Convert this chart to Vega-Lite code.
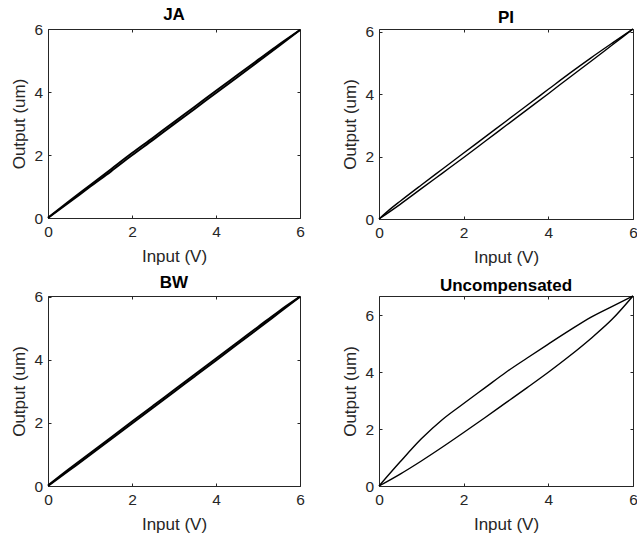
{
  "$schema": "https://vega.github.io/schema/vega-lite/v6.json",
  "background": "white",
  "padding": {"left": 10, "top": 5, "right": 0, "bottom": 0},
  "columns": 2,
  "spacing": {"row": 77, "column": 79},
  "bounds": "flush",
  "config": {
    "font": "Liberation Sans",
    "view": {"stroke": "#262626", "strokeWidth": 1},
    "axis": {
      "grid": false,
      "domain": false,
      "tickColor": "#262626",
      "tickSize": -3,
      "labelColor": "#262626",
      "titleColor": "#262626",
      "labelFont": "Liberation Sans",
      "titleFont": "Liberation Sans",
      "labelFontSize": 15.5,
      "titleFontSize": 17,
      "titleFontWeight": "normal",
      "labelFlush": false,
      "labelOverlap": false
    },
    "axisX": {"labelPadding": 9, "titlePadding": 9},
    "axisY": {"labelPadding": 8.5, "titlePadding": 5},
    "title": {"fontSize": 17, "fontWeight": "bold", "color": "black", "anchor": "middle", "frame": "group", "offset": -2, "font": "Liberation Sans"}
  },
  "concat": [
    {
      "title": "JA",
      "width": 252,
      "height": 189,
      "data": {"values": [
        {"b": "up", "x": 0, "y": 0},
        {"b": "up", "x": 0.5, "y": 0.49},
        {"b": "up", "x": 1, "y": 0.99},
        {"b": "up", "x": 1.5, "y": 1.48},
        {"b": "up", "x": 2, "y": 1.99},
        {"b": "up", "x": 2.5, "y": 2.48},
        {"b": "up", "x": 3, "y": 2.98},
        {"b": "up", "x": 3.5, "y": 3.47},
        {"b": "up", "x": 4, "y": 3.97},
        {"b": "up", "x": 4.5, "y": 4.46},
        {"b": "up", "x": 5, "y": 4.96},
        {"b": "up", "x": 5.5, "y": 5.46},
        {"b": "up", "x": 6, "y": 5.97},
        {"b": "down", "x": 6, "y": 5.97},
        {"b": "down", "x": 5.5, "y": 5.51},
        {"b": "down", "x": 5, "y": 5.02},
        {"b": "down", "x": 4.5, "y": 4.53},
        {"b": "down", "x": 4, "y": 4.04},
        {"b": "down", "x": 3.5, "y": 3.54},
        {"b": "down", "x": 3, "y": 3.05},
        {"b": "down", "x": 2.5, "y": 2.55},
        {"b": "down", "x": 2, "y": 2.06},
        {"b": "down", "x": 1.5, "y": 1.55},
        {"b": "down", "x": 1, "y": 1.04},
        {"b": "down", "x": 0.5, "y": 0.53},
        {"b": "down", "x": 0, "y": 0.01}
      ]},
      "resolve": {"axis": {"x": "independent", "y": "independent"}},
      "layer": [
        {
          "mark": {"type": "line", "color": "black", "strokeWidth": 1.9, "interpolate": "monotone"},
          "encoding": {
            "x": {"field": "x", "type": "quantitative", "scale": {"domain": [0, 6], "nice": false}, "axis": {"orient": "bottom", "title": "Input (V)", "values": [0, 2, 4, 6]}},
            "y": {"field": "y", "type": "quantitative", "scale": {"domain": [0, 6], "nice": false}, "axis": {"orient": "left", "title": "Output (um)", "values": [0, 2, 4, 6]}},
            "detail": {"field": "b"},
            "order": {"field": "x", "type": "quantitative"}
          }
        },
        {
          "mark": {"type": "line", "opacity": 0},
          "encoding": {
            "x": {"field": "x", "type": "quantitative", "axis": {"orient": "top", "labels": false, "title": null, "values": [0, 2, 4, 6]}},
            "y": {"field": "y", "type": "quantitative", "axis": {"orient": "right", "labels": false, "title": null, "values": [0, 2, 4, 6]}},
            "detail": {"field": "b"}
          }
        }
      ]
    },
    {
      "title": "PI",
      "width": 254,
      "height": 190,
      "data": {"values": [
        {"b": "up", "x": 0, "y": 0},
        {"b": "up", "x": 0.5, "y": 0.47},
        {"b": "up", "x": 1, "y": 0.97},
        {"b": "up", "x": 1.5, "y": 1.47},
        {"b": "up", "x": 2, "y": 1.97},
        {"b": "up", "x": 2.5, "y": 2.48},
        {"b": "up", "x": 3, "y": 2.99},
        {"b": "up", "x": 3.5, "y": 3.5},
        {"b": "up", "x": 4, "y": 4.01},
        {"b": "up", "x": 4.5, "y": 4.53},
        {"b": "up", "x": 5, "y": 5.04},
        {"b": "up", "x": 5.5, "y": 5.56},
        {"b": "up", "x": 6, "y": 6.08},
        {"b": "down", "x": 6, "y": 6.08},
        {"b": "down", "x": 5.5, "y": 5.62},
        {"b": "down", "x": 5, "y": 5.15},
        {"b": "down", "x": 4.5, "y": 4.66},
        {"b": "down", "x": 4, "y": 4.15},
        {"b": "down", "x": 3.5, "y": 3.64},
        {"b": "down", "x": 3, "y": 3.13},
        {"b": "down", "x": 2.5, "y": 2.62},
        {"b": "down", "x": 2, "y": 2.11},
        {"b": "down", "x": 1.5, "y": 1.6},
        {"b": "down", "x": 1, "y": 1.09},
        {"b": "down", "x": 0.5, "y": 0.57},
        {"b": "down", "x": 0.25, "y": 0.3},
        {"b": "down", "x": 0, "y": 0}
      ]},
      "resolve": {"axis": {"x": "independent", "y": "independent"}},
      "layer": [
        {
          "mark": {"type": "line", "color": "black", "strokeWidth": 1.4, "interpolate": "monotone"},
          "encoding": {
            "x": {"field": "x", "type": "quantitative", "scale": {"domain": [0, 6], "nice": false}, "axis": {"orient": "bottom", "title": "Input (V)", "values": [0, 2, 4, 6]}},
            "y": {"field": "y", "type": "quantitative", "scale": {"domain": [0, 6.08], "nice": false}, "axis": {"orient": "left", "title": "Output (um)", "values": [0, 2, 4, 6]}},
            "detail": {"field": "b"},
            "order": {"field": "x", "type": "quantitative"}
          }
        },
        {
          "mark": {"type": "line", "opacity": 0},
          "encoding": {
            "x": {"field": "x", "type": "quantitative", "axis": {"orient": "top", "labels": false, "title": null, "values": [0, 2, 4, 6]}},
            "y": {"field": "y", "type": "quantitative", "axis": {"orient": "right", "labels": false, "title": null, "values": [0, 2, 4, 6]}},
            "detail": {"field": "b"}
          }
        }
      ]
    },
    {
      "title": "BW",
      "width": 252,
      "height": 190,
      "data": {"values": [
        {"b": "up", "x": 0, "y": 0},
        {"b": "up", "x": 0.5, "y": 0.49},
        {"b": "up", "x": 1, "y": 0.98},
        {"b": "up", "x": 1.5, "y": 1.48},
        {"b": "up", "x": 2, "y": 1.98},
        {"b": "up", "x": 2.5, "y": 2.48},
        {"b": "up", "x": 3, "y": 2.98},
        {"b": "up", "x": 3.5, "y": 3.48},
        {"b": "up", "x": 4, "y": 3.98},
        {"b": "up", "x": 4.5, "y": 4.48},
        {"b": "up", "x": 5, "y": 4.98},
        {"b": "up", "x": 5.5, "y": 5.49},
        {"b": "up", "x": 6, "y": 6.0},
        {"b": "down", "x": 6, "y": 6.0},
        {"b": "down", "x": 5.5, "y": 5.54},
        {"b": "down", "x": 5, "y": 5.04},
        {"b": "down", "x": 4.5, "y": 4.54},
        {"b": "down", "x": 4, "y": 4.04},
        {"b": "down", "x": 3.5, "y": 3.54},
        {"b": "down", "x": 3, "y": 3.04},
        {"b": "down", "x": 2.5, "y": 2.54},
        {"b": "down", "x": 2, "y": 2.04},
        {"b": "down", "x": 1.5, "y": 1.54},
        {"b": "down", "x": 1, "y": 1.04},
        {"b": "down", "x": 0.5, "y": 0.54},
        {"b": "down", "x": 0, "y": 0.02}
      ]},
      "resolve": {"axis": {"x": "independent", "y": "independent"}},
      "layer": [
        {
          "mark": {"type": "line", "color": "black", "strokeWidth": 1.9, "interpolate": "monotone"},
          "encoding": {
            "x": {"field": "x", "type": "quantitative", "scale": {"domain": [0, 6], "nice": false}, "axis": {"orient": "bottom", "title": "Input (V)", "values": [0, 2, 4, 6]}},
            "y": {"field": "y", "type": "quantitative", "scale": {"domain": [0, 6.02], "nice": false}, "axis": {"orient": "left", "title": "Output (um)", "values": [0, 2, 4, 6]}},
            "detail": {"field": "b"},
            "order": {"field": "x", "type": "quantitative"}
          }
        },
        {
          "mark": {"type": "line", "opacity": 0},
          "encoding": {
            "x": {"field": "x", "type": "quantitative", "axis": {"orient": "top", "labels": false, "title": null, "values": [0, 2, 4, 6]}},
            "y": {"field": "y", "type": "quantitative", "axis": {"orient": "right", "labels": false, "title": null, "values": [0, 2, 4, 6]}},
            "detail": {"field": "b"}
          }
        }
      ]
    },
    {
      "title": "Uncompensated",
      "width": 254,
      "height": 190,
      "data": {"values": [
        {"b": "up", "x": 0, "y": 0},
        {"b": "up", "x": 0.5, "y": 0.42},
        {"b": "up", "x": 1, "y": 0.88},
        {"b": "up", "x": 1.5, "y": 1.37},
        {"b": "up", "x": 2, "y": 1.88},
        {"b": "up", "x": 2.5, "y": 2.4},
        {"b": "up", "x": 3, "y": 2.93},
        {"b": "up", "x": 3.5, "y": 3.46},
        {"b": "up", "x": 4, "y": 4.0},
        {"b": "up", "x": 4.5, "y": 4.57},
        {"b": "up", "x": 5, "y": 5.18},
        {"b": "up", "x": 5.5, "y": 5.85},
        {"b": "up", "x": 6, "y": 6.68},
        {"b": "down", "x": 6, "y": 6.68},
        {"b": "down", "x": 5.5, "y": 6.31},
        {"b": "down", "x": 5, "y": 5.93},
        {"b": "down", "x": 4.5, "y": 5.47},
        {"b": "down", "x": 4, "y": 4.99},
        {"b": "down", "x": 3.5, "y": 4.5},
        {"b": "down", "x": 3, "y": 4.0},
        {"b": "down", "x": 2.5, "y": 3.45},
        {"b": "down", "x": 2, "y": 2.9},
        {"b": "down", "x": 1.5, "y": 2.34},
        {"b": "down", "x": 1, "y": 1.66},
        {"b": "down", "x": 0.5, "y": 0.85},
        {"b": "down", "x": 0, "y": 0}
      ]},
      "resolve": {"axis": {"x": "independent", "y": "independent"}},
      "layer": [
        {
          "mark": {"type": "line", "color": "black", "strokeWidth": 1.4, "interpolate": "monotone"},
          "encoding": {
            "x": {"field": "x", "type": "quantitative", "scale": {"domain": [0, 6], "nice": false}, "axis": {"orient": "bottom", "title": "Input (V)", "values": [0, 2, 4, 6]}},
            "y": {"field": "y", "type": "quantitative", "scale": {"domain": [0, 6.68], "nice": false}, "axis": {"orient": "left", "title": "Output (um)", "values": [0, 2, 4, 6]}},
            "detail": {"field": "b"},
            "order": {"field": "x", "type": "quantitative"}
          }
        },
        {
          "mark": {"type": "line", "opacity": 0},
          "encoding": {
            "x": {"field": "x", "type": "quantitative", "axis": {"orient": "top", "labels": false, "title": null, "values": [0, 2, 4, 6]}},
            "y": {"field": "y", "type": "quantitative", "axis": {"orient": "right", "labels": false, "title": null, "values": [0, 2, 4, 6]}},
            "detail": {"field": "b"}
          }
        }
      ]
    }
  ]
}
